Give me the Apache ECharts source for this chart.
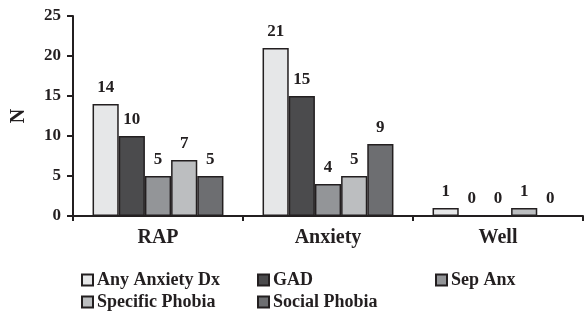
<!DOCTYPE html>
<html>
<head>
<meta charset="utf-8">
<script src="https://cdn.jsdelivr.net/npm/echarts@6/dist/echarts.min.js"></script>
<style>
  html, body { margin: 0; padding: 0; background: #fff; }
  #chart { width: 584px; height: 312px; }
</style>
</head>
<body>
<div id="chart"></div>
<script>
var categories = ['RAP', 'Anxiety', 'Well'];
var seriesNames = ['Any Anxiety Dx', 'GAD', 'Sep Anx', 'Specific Phobia', 'Social Phobia'];
var anyAnxiety = [14, 21, 1];
var gad = [10, 15, 0];
var sepAnx = [5, 4, 0];
var specificPhobia = [7, 5, 1];
var socialPhobia = [5, 9, 0];
var yTicks = [0, 5, 10, 15, 20, 25];

var myChart = echarts.init(document.getElementById('chart'));
var font = "'Liberation Serif', 'Times New Roman', serif";
var ink = '#231f20';
var colors = ['#e6e7e8', '#4b4b4d', '#939598', '#bcbec0', '#6d6e71'];
var values = [anyAnxiety, gad, sepAnx, specificPhobia, socialPhobia];

// legend positions (two rows)
var legendPos = [
    { left: 81, top: 271 },
    { left: 257, top: 271 },
    { left: 435, top: 271 },
    { left: 81, top: 293 },
    { left: 257, top: 293 }
];

var legends = seriesNames.map(function (name, i) {
    return {
        data: [name],
        left: legendPos[i].left,
        top: legendPos[i].top,
        padding: 0,
        itemWidth: 11,
        itemHeight: 11,
        itemGap: 7,
        icon: 'rect',
        selectedMode: false,
        textStyle: {
            fontFamily: font,
            fontWeight: 'bold',
            fontSize: 18,
            color: ink,
            padding: [0, 0, 0, -1]
        }
    };
});

var series = seriesNames.map(function (name, i) {
    return {
        name: name,
        type: 'bar',
        data: values[i],
        barGap: 0,
        barCategoryGap: '23%',
        itemStyle: {
            color: colors[i],
            borderColor: ink,
            borderWidth: 1.5
        },
        label: {
            show: true,
            position: 'top',
            distance: 8,
            fontFamily: font,
            fontWeight: 'bold',
            fontSize: 17,
            color: ink
        }
    };
});

option = {
    animation: false,
    backgroundColor: '#fff',
    grid: {
        left: 73,
        right: 1,
        top: 16,
        bottom: 96
    },
    legend: legends,
    xAxis: {
        type: 'category',
        data: categories,
        axisLine: { lineStyle: { color: ink, width: 2 } },
        axisTick: { show: true, length: 5, lineStyle: { color: ink, width: 2 } },
        axisLabel: {
            margin: 12,
            fontFamily: font,
            fontWeight: 'bold',
            fontSize: 20,
            color: ink
        }
    },
    yAxis: {
        type: 'value',
        min: yTicks[0],
        max: yTicks[yTicks.length - 1],
        interval: 5,
        name: 'N',
        nameLocation: 'middle',
        nameRotate: 90,
        nameGap: 44,
        nameTextStyle: {
            fontFamily: font,
            fontWeight: 'bold',
            fontSize: 20,
            color: ink
        },
        splitLine: { show: false },
        axisLine: { show: true, lineStyle: { color: ink, width: 2 } },
        axisTick: { show: true, length: 6, lineStyle: { color: ink, width: 2 } },
        axisLabel: {
            margin: 12,
            fontFamily: font,
            fontWeight: 'bold',
            fontSize: 17,
            color: ink
        }
    },
    series: series
};

myChart.setOption(option);
</script>
</body>
</html>
